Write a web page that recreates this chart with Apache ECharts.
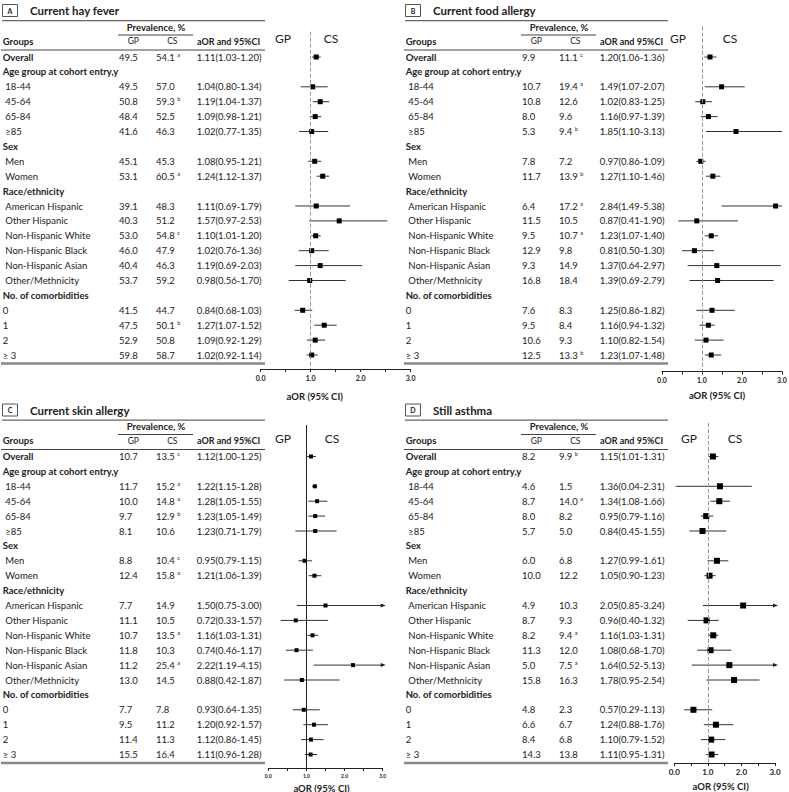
<!DOCTYPE html>
<html>
<head>
<meta charset="utf-8">
<script src="https://cdn.jsdelivr.net/npm/echarts@6/dist/echarts.min.js"></script>
<style>
  html, body { margin: 0; padding: 0; background: #fff; }
  #main { width: 789px; height: 792px; }
</style>
</head>
<body>
<div id="main"></div>
<script>
// row labels, same for the four panels
var groups = ['Overall', 'Age group at cohort entry,y', '18-44', '45-64', '65-84', '≥85',
  'Sex', 'Men', 'Women', 'Race/ethnicity', 'American Hispanic', 'Other Hispanic',
  'Non-Hispanic White', 'Non-Hispanic Black', 'Non-Hispanic Asian', 'Other/Methnicity',
  'No. of comorbidities', '0', '1', '2', '≥ 3'];
var boldRows = [0, 1, 6, 9, 16];
var indentRows = [2, 3, 4, 5, 7, 8, 10, 11, 12, 13, 14, 15];
var tickLabels = ['0.0', '1.0', '2.0', '3.0'];

// A current hay fever
var hayGP = [49.5, null, 49.5, 50.8, 48.4, 41.6, null, 45.1, 53.1, null, 39.1, 40.3, 53.0, 46.0, 40.4, 53.7, null, 41.5, 47.5, 52.9, 59.8];
var hayCS = [54.1, null, 57.0, 59.3, 52.5, 46.3, null, 45.3, 60.5, null, 48.3, 51.2, 54.8, 47.9, 46.3, 59.2, null, 44.7, 50.1, 50.8, 58.7];
var haySup = ['a', '', '', 'b', '', '', '', '', 'a', '', '', '', 'c', '', '', '', '', '', 'b', '', ''];
var hayOR = [1.11, null, 1.04, 1.19, 1.09, 1.02, null, 1.08, 1.24, null, 1.11, 1.57, 1.10, 1.02, 1.19, 0.98, null, 0.84, 1.27, 1.09, 1.02];
var hayLo = [1.03, null, 0.80, 1.04, 0.98, 0.77, null, 0.95, 1.12, null, 0.69, 0.97, 1.01, 0.76, 0.69, 0.56, null, 0.68, 1.07, 0.92, 0.92];
var hayHi = [1.20, null, 1.34, 1.37, 1.21, 1.35, null, 1.21, 1.37, null, 1.79, 2.53, 1.20, 1.36, 2.03, 1.70, null, 1.03, 1.52, 1.29, 1.14];

// B current food allergy
var foodGP = [9.9, null, 10.7, 10.8, 8.0, 5.3, null, 7.8, 11.7, null, 6.4, 11.5, 9.5, 12.9, 9.3, 16.8, null, 7.6, 9.5, 10.6, 12.5];
var foodCS = [11.1, null, 19.4, 12.6, 9.6, 9.4, null, 7.2, 13.9, null, 17.2, 10.5, 10.7, 9.8, 14.9, 18.4, null, 8.3, 8.4, 9.3, 13.3];
var foodSup = ['c', '', 'a', '', '', 'b', '', '', 'b', '', 'a', '', 'a', '', '', '', '', '', '', '', 'b'];
var foodOR = [1.20, null, 1.49, 1.02, 1.16, 1.85, null, 0.97, 1.27, null, 2.84, 0.87, 1.23, 0.81, 1.37, 1.39, null, 1.25, 1.16, 1.10, 1.23];
var foodLo = [1.06, null, 1.07, 0.83, 0.97, 1.10, null, 0.86, 1.10, null, 1.49, 0.41, 1.07, 0.50, 0.64, 0.69, null, 0.86, 0.94, 0.82, 1.07];
var foodHi = [1.36, null, 2.07, 1.25, 1.39, 3.13, null, 1.09, 1.46, null, 5.38, 1.90, 1.40, 1.30, 2.97, 2.79, null, 1.82, 1.32, 1.54, 1.48];

// C current skin allergy
var skinGP = [10.7, null, 11.7, 10.0, 9.7, 8.1, null, 8.8, 12.4, null, 7.7, 11.1, 10.7, 11.8, 11.2, 13.0, null, 7.7, 9.5, 11.4, 15.5];
var skinCS = [13.5, null, 15.2, 14.8, 12.9, 10.6, null, 10.4, 15.8, null, 14.9, 10.5, 13.5, 10.3, 25.4, 14.5, null, 7.8, 11.2, 11.3, 16.4];
var skinSup = ['c', '', 'a', 'a', 'b', '', '', 'c', 'a', '', '', '', 'a', '', 'a', '', '', '', '', '', ''];
var skinOR = [1.12, null, 1.22, 1.28, 1.23, 1.23, null, 0.95, 1.21, null, 1.50, 0.72, 1.16, 0.74, 2.22, 0.88, null, 0.93, 1.20, 1.12, 1.11];
var skinLo = [1.00, null, 1.15, 1.05, 1.05, 0.71, null, 0.79, 1.06, null, 0.75, 0.33, 1.03, 0.46, 1.19, 0.42, null, 0.64, 0.92, 0.86, 0.96];
var skinHi = [1.25, null, 1.28, 1.55, 1.49, 1.79, null, 1.15, 1.39, null, 3.00, 1.57, 1.31, 1.17, 4.15, 1.87, null, 1.35, 1.57, 1.45, 1.28];

// D still asthma
var asthGP = [8.2, null, 4.6, 8.7, 8.0, 5.7, null, 6.0, 10.0, null, 4.9, 8.7, 8.2, 11.3, 5.0, 15.8, null, 4.8, 6.6, 8.4, 14.3];
var asthCS = [9.9, null, 1.5, 14.0, 8.2, 5.0, null, 6.8, 12.2, null, 10.3, 9.3, 9.4, 12.0, 7.5, 16.3, null, 2.3, 6.7, 6.8, 13.8];
var asthSup = ['b', '', '', 'a', '', '', '', '', '', '', '', '', 'a', '', 'a', '', '', '', '', '', ''];
var asthOR = [1.15, null, 1.36, 1.34, 0.95, 0.84, null, 1.27, 1.05, null, 2.05, 0.96, 1.16, 1.08, 1.64, 1.78, null, 0.57, 1.24, 1.10, 1.11];
var asthLo = [1.01, null, 0.04, 1.08, 0.79, 0.45, null, 0.99, 0.90, null, 0.85, 0.40, 1.03, 0.68, 0.52, 0.95, null, 0.29, 0.88, 0.79, 0.95];
var asthHi = [1.31, null, 2.31, 1.66, 1.16, 1.55, null, 1.61, 1.23, null, 3.24, 1.32, 1.31, 1.70, 5.13, 2.54, null, 1.13, 1.76, 1.52, 1.31];

var FONT = 'Lato';
var FS = 9.5;
var ROW0 = 57, STEP = 14.9;

var panels = [
  { key: 'A', title: 'Current hay fever', gp: hayGP, cs: hayCS, sup: haySup, or: hayOR, lo: hayLo, hi: hayHi,
    tx: 0, ty: 0, axL: 260.7, axR: 410.7, refTop: 31.7, axisY: 369, refType: 'dashed', refColor: '#999',
    arrows: false, mark: 5, tickSize: 7, nameGap: 22, nameShift: 21, gpX: 283, csX: 331 },
  { key: 'B', title: 'Current food allergy', gp: foodGP, cs: foodCS, sup: foodSup, or: foodOR, lo: foodLo, hi: foodHi,
    tx: 403, ty: 0, axL: 662, axR: 782, refTop: 26.7, axisY: 371.5, refType: 'dashed', refColor: '#999',
    arrows: false, mark: 5, tickSize: 7, nameGap: 19, nameShift: 5, gpX: 678, csX: 730 },
  { key: 'C', title: 'Current skin allergy', gp: skinGP, cs: skinCS, sup: skinSup, or: skinOR, lo: skinLo, hi: skinHi,
    tx: 0, ty: 399.5, axL: 268.3, axR: 382.7, refTop: 425, axisY: 768, refType: 'solid', refColor: '#222',
    arrows: true, mark: 4, tickSize: 5, nameGap: 15, nameShift: 4, gpX: 283, csX: 332 },
  { key: 'D', title: 'Still asthma', gp: asthGP, cs: asthCS, sup: asthSup, or: asthOR, lo: asthLo, hi: asthHi,
    tx: 403, ty: 399.5, axL: 674.3, axR: 775, refTop: 423, axisY: 763, refType: 'dashed', refColor: '#999',
    arrows: true, mark: 6, tickSize: 8, nameGap: 18, nameShift: 4, gpX: 689, csX: 735 }
];

function txt(x, y, s, size, weight, align) {
  return {
    type: 'text', x: x, y: y, silent: true,
    style: { text: s, fontFamily: FONT, fontSize: size, fontWeight: weight || 'normal',
      fill: '#222', align: align || 'left', verticalAlign: 'middle' }
  };
}
function hline(x1, x2, y, w, color) {
  return { type: 'line', silent: true, shape: { x1: x1, y1: y, x2: x2, y2: y },
    style: { stroke: color || '#444', lineWidth: w || 1 } };
}

var graphic = [];
var grids = [], xAxes = [], yAxes = [], series = [];

panels.forEach(function (p, k) {
  var x0 = p.tx, y0 = p.ty;
  // panel letter and title
  graphic.push({ type: 'rect', silent: true, shape: { x: x0 + 2.5, y: y0 + 4.5, width: 15, height: 12 },
    style: { fill: 'none', stroke: '#555', lineWidth: 1 } });
  graphic.push(txt(x0 + 10, y0 + 10.7, p.key, 7, 'bold', 'center'));
  graphic.push(txt(x0 + 30, y0 + 10.7, p.title, 11.5, 'bold'));
  graphic.push(hline(x0 + 2, x0 + 265, y0 + 20.7, 1.3, '#666'));
  // table header
  graphic.push(txt(x0 + 156, y0 + 27.3, 'Prevalence, %', FS, 'bold', 'center'));
  graphic.push(hline(x0 + 118, x0 + 193, y0 + 35, 1, '#444'));
  graphic.push(txt(x0 + 2.7, y0 + 41, 'Groups', FS, 'bold'));
  graphic.push(txt(x0 + 133.3, y0 + 41, 'GP', 8.5, 'normal', 'center'));
  graphic.push(txt(x0 + 172.3, y0 + 41, 'CS', 8.5, 'normal', 'center'));
  graphic.push(txt(x0 + 197, y0 + 41, 'aOR and 95%CI', 9, 'bold'));
  graphic.push(hline(x0 + 1, x0 + 265, y0 + 50, 1, '#444'));
  graphic.push(hline(x0 + 1, x0 + 265, y0 + 363.5, 2.5, '#888'));

  // rows
  groups.forEach(function (g, i) {
    var y = y0 + ROW0 + STEP * i;
    var bold = boldRows.indexOf(i) >= 0;
    var ind = indentRows.indexOf(i) >= 0 ? 5.3 : 2.7;
    graphic.push(txt(x0 + ind, y, g, FS, bold ? 'bold' : 'normal'));
    if (p.gp[i] == null) return;
    graphic.push(txt(x0 + 119, y, p.gp[i].toFixed(1), FS));
    var cs = txt(x0 + 156, y, '', FS);
    cs.style.text = '{v|' + p.cs[i].toFixed(1) + '}' + (p.sup[i] ? ' {s|' + p.sup[i] + '}' : '');
    cs.style.rich = {
      v: { fontFamily: FONT, fontSize: FS, fill: '#222', lineHeight: 11 },
      s: { fontFamily: FONT, fontSize: 5.5, fill: '#222', verticalAlign: 'top', lineHeight: 11 }
    };
    graphic.push(cs);
    graphic.push(txt(x0 + 196.7, y, p.or[i].toFixed(2) + '(' + p.lo[i].toFixed(2) + '-' + p.hi[i].toFixed(2) + ')', FS));
  });

  // GP / CS direction labels over the forest plot
  graphic.push(txt(p.gpX, y0 + 38.5, 'GP', 12, 'normal', 'center'));
  graphic.push(txt(p.csX, y0 + 38.5, 'CS', 12, 'normal', 'center'));

  // forest plot
  var rowTop = y0 + ROW0;
  var yMin = -(rowTop - p.refTop) / STEP;
  var yMax = 20 + (p.axisY - (rowTop + STEP * 20)) / STEP;
  grids.push({ left: p.axL, top: p.refTop, width: p.axR - p.axL, height: p.axisY - p.refTop,
    containLabel: false, outerBoundsMode: 'none' });
  xAxes.push({
    gridIndex: k, type: 'value', min: 0, max: 3, interval: 0.5, position: 'bottom',
    axisLine: { show: true, onZero: false, lineStyle: { color: '#222', width: 1 } },
    axisTick: { show: true, length: 3, lineStyle: { color: '#222' } },
    splitLine: { show: false },
    axisLabel: {
      showMinLabel: true, showMaxLabel: true, margin: 5,
      fontFamily: FONT, fontSize: p.tickSize, fontWeight: 'bold', color: '#222',
      formatter: function (v) { return v % 1 === 0 ? tickLabels[v] : ''; }
    },
    name: 'aOR (95% CI)', nameLocation: 'middle', nameGap: p.nameGap,
    nameTextStyle: { fontFamily: FONT, fontSize: 9.5, fontWeight: 'bold', color: '#222',
      padding: [0, 2 * p.nameShift, 0, 0] }
  });
  yAxes.push({ gridIndex: k, type: 'value', inverse: true, min: yMin, max: yMax, show: false });

  var ci = [], pts = [];
  p.or.forEach(function (v, i) {
    if (v == null) return;
    ci.push([p.lo[i], p.hi[i], i]);
    pts.push([v, i]);
  });
  series.push({
    type: 'custom', xAxisIndex: k, yAxisIndex: k, silent: true, clip: false, z: 2,
    data: ci,
    renderItem: function (params, api) {
      var lo = api.value(0), hi = api.value(1), row = api.value(2);
      var a = api.coord([lo, row]);
      var b = api.coord([Math.min(hi, 3), row]);
      var kids = [{ type: 'line', shape: { x1: a[0], y1: a[1], x2: b[0], y2: b[1] },
        style: { stroke: '#333', lineWidth: 1 } }];
      if (p.arrows && hi >= 3) {
        kids.push({ type: 'polygon', shape: { points: [[b[0] + 3, b[1]], [b[0] - 2, b[1] - 2], [b[0] - 2, b[1] + 2]] },
          style: { fill: '#222' } });
      }
      return { type: 'group', children: kids };
    }
  });
  series.push({
    type: 'scatter', xAxisIndex: k, yAxisIndex: k, silent: true, z: 3,
    symbol: 'rect', symbolSize: p.mark, itemStyle: { color: '#000', opacity: 1 },
    data: pts,
    markLine: {
      silent: true, symbol: ['none', 'none'], label: { show: false },
      lineStyle: { color: p.refColor, type: p.refType, width: 1 },
      data: [{ xAxis: 1 }]
    }
  });
});

var chart = echarts.init(document.getElementById('main'), null, { renderer: 'svg' });
chart.setOption({
  animation: false,
  backgroundColor: '#fff',
  grid: grids,
  xAxis: xAxes,
  yAxis: yAxes,
  series: series,
  graphic: graphic
});
</script>
</body>
</html>
